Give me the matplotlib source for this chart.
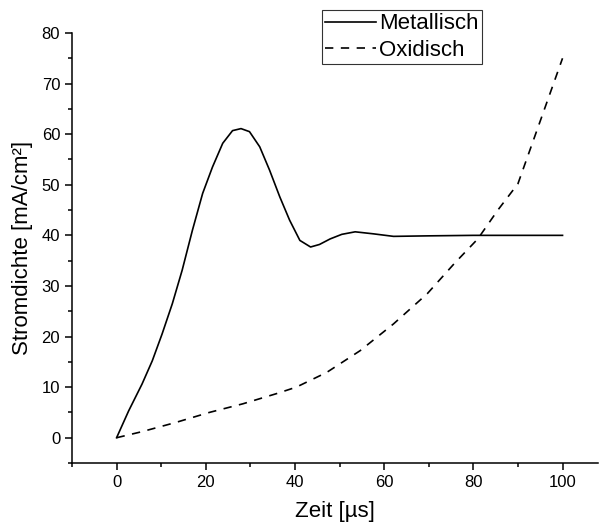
import numpy as np
import matplotlib
matplotlib.use("Agg")
import matplotlib.pyplot as plt
from matplotlib.ticker import MultipleLocator

plt.rcParams['font.family'] = ['Liberation Sans', 'DejaVu Sans']

# Metallisch (solid line)
zeit_met = [0, 2.7, 5.7, 8.0, 10.2, 12.5, 14.7, 17.0, 19.3, 21.5, 23.8, 26.0,
            27.9, 29.8, 32.1, 34.3, 36.6, 38.8, 41.1, 43.5, 45.5, 47.9, 50.5,
            53.5, 57.6, 62.1, 69.7, 80, 90, 100]
strom_met = [0, 5.3, 10.6, 15.2, 20.5, 26.5, 33.1, 41.0, 48.3, 53.5, 58.2, 60.7,
             61.1, 60.5, 57.5, 52.9, 47.6, 43.0, 39.0, 37.7, 38.2, 39.3, 40.2,
             40.7, 40.3, 39.8, 39.9, 40, 40, 40]

# Oxidisch (dashed line)
zeit_ox = [0, 5.7, 13.2, 20.8, 28.3, 35.8, 40.3, 47.1, 54.6, 62.1, 69.7, 75.7,
           81.0, 85.5, 90.0, 100]
strom_ox = [0, 1.2, 3.0, 5.0, 6.7, 8.7, 10.0, 12.9, 17.2, 22.5, 28.5, 34.4,
            39.3, 45.0, 50.2, 75]

fig = plt.figure(figsize=(6.0, 5.27), dpi=100)
ax = fig.add_axes([0.12, 0.1214, 0.877, 0.816])

ax.plot(zeit_met, strom_met, '-', color='black', lw=1.2, label='Metallisch')
ax.plot(zeit_ox, strom_ox, '--', color='black', lw=1.2, dashes=(5, 4.5), label='Oxidisch')

ax.set_xlim(-10, 108)
ax.set_ylim(-5, 80)
ax.xaxis.set_major_locator(MultipleLocator(20))
ax.xaxis.set_minor_locator(MultipleLocator(10))
ax.yaxis.set_major_locator(MultipleLocator(10))
ax.yaxis.set_minor_locator(MultipleLocator(5))
ax.set_xticks([0, 20, 40, 60, 80, 100])

for s in ['top', 'right']:
    ax.spines[s].set_visible(False)
for s in ['left', 'bottom']:
    ax.spines[s].set_linewidth(1.1)
ax.tick_params(which='major', direction='out', length=5, width=1.1, labelsize=12)
ax.tick_params(which='minor', direction='out', length=3, width=1.1)

ax.set_xlabel('Zeit [µs]', fontsize=16, labelpad=8)
ax.set_ylabel('Stromdichte [mA/cm²]', fontsize=16, labelpad=6)

leg = fig.legend(loc='upper left', bbox_to_anchor=(322 / 600, 1 - 10 / 527),
                 fontsize=16, frameon=True, fancybox=False, handlelength=2.3,
                 handletextpad=0.1, borderpad=0.15, labelspacing=0.25,
                 borderaxespad=0)
leg.get_frame().set_edgecolor('black')
leg.get_frame().set_linewidth(0.8)

fig.savefig('out.png', dpi=100)
